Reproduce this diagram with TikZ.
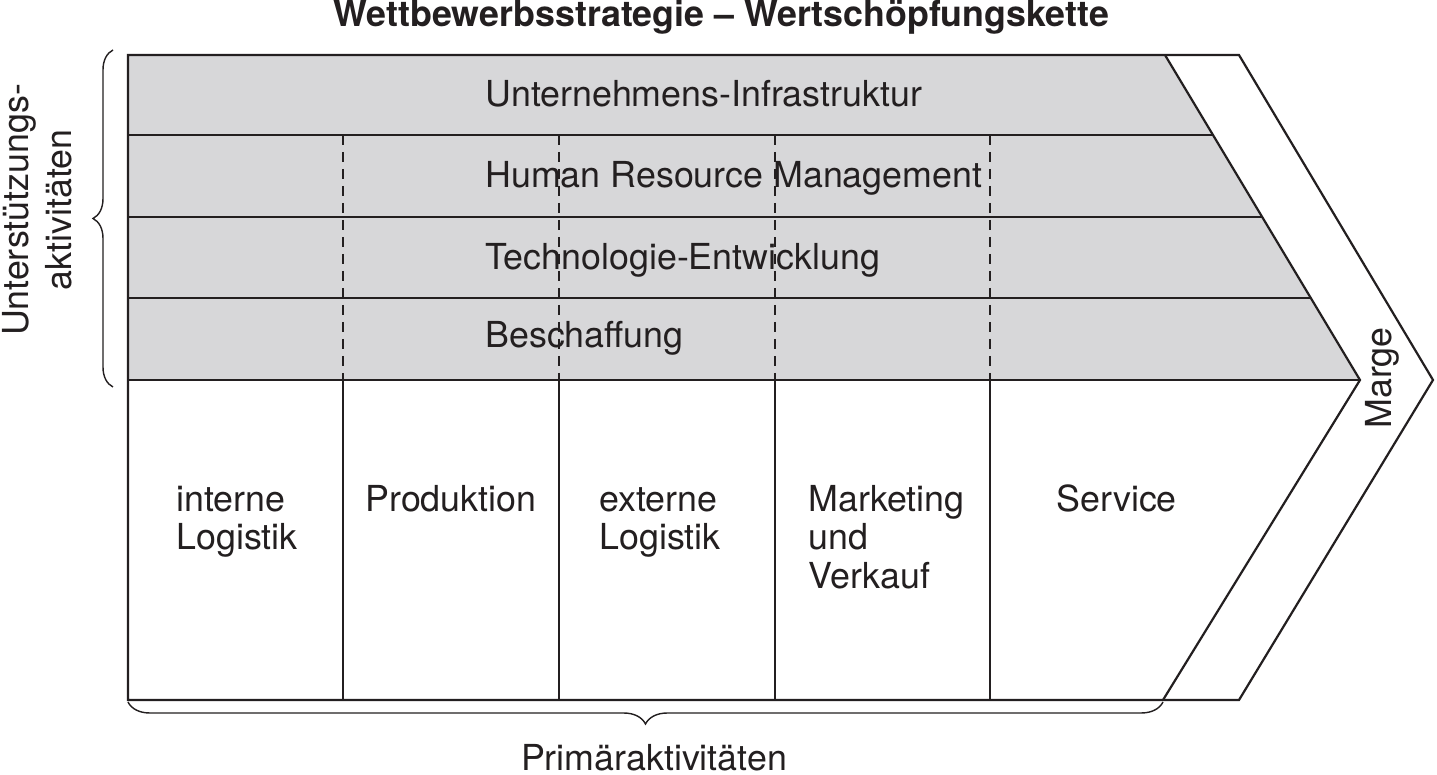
\documentclass[tikz,border=0pt]{standalone}
\usepackage{fontspec}
\setmainfont{TeX Gyre Heros}
\usetikzlibrary{decorations.pathreplacing}
\definecolor{ink}{RGB}{35,31,32}
\definecolor{band}{RGB}{215,215,217}
\newcommand\lineslft[2]{\vtop{\hbox{#1}\hbox{#2}}}
\newcommand\linesthree[3]{\vtop{\hbox{#1}\hbox{#2}\hbox{#3}}}
\newcommand\linesctr[2]{\vtop{\baselineskip=21.5pt\halign{\hfil##\hfil\cr#1\cr#2\cr}}}
\begin{document}
\begin{tikzpicture}[x=0.5pt,y=-0.5pt,
  lbl/.style={font=\fontsize{17.9}{19.5}\selectfont, inner sep=0pt, text=ink},
  ttl/.style={lbl, font=\fontsize{17.9}{19.5}\selectfont\bfseries},
  outline/.style={draw=ink, line width=1.1pt, line join=miter},
  divider/.style={draw=ink, line width=0.8pt},
  dashdiv/.style={draw=ink, line width=0.75pt, dash pattern=on 5pt off 3.5pt},
  bracestyle/.style={draw=ink, line width=0.7pt, decorate}]
\fill[white] (0,0) rectangle (1437,775);
\useasboundingbox (0,0) rectangle (1437,775);
% key points
\coordinate (tl) at (128,55);
\coordinate (gtr) at (1165,55);
\coordinate (gtip) at (1360,380);
\coordinate (gbr) at (1163,700);
\coordinate (otr) at (1239,55);
\coordinate (otip) at (1433,380);
\coordinate (obr) at (1239,700);
\coordinate (bl) at (128,700);
\coordinate (ml) at (128,380);
% support band
\fill[band] (tl) -- (gtr) -- (gtip) -- (ml) -- cycle;
% row separators
\coordinate (r1l) at (128,135); \coordinate (r1r) at (1213,135);
\coordinate (r2l) at (128,217); \coordinate (r2r) at (1262.2,217);
\coordinate (r3l) at (128,298); \coordinate (r3r) at (1310.8,298);
\draw[outline] (r1l) -- (r1r);
\draw[outline] (r2l) -- (r2r);
\draw[outline] (r3l) -- (r3r);
\draw[outline] (ml) -- (gtip);
% dashed dividers in support rows, solid dividers in primary row
\foreach \x [count=\i] in {343,559,775,990}{
  \coordinate (dt\i) at (\x,135);
  \coordinate (db\i) at (\x,380);
  \coordinate (pb\i) at (\x,700);
  \draw[dashdiv] (dt\i) -- (db\i);
  \draw[divider] (db\i) -- (pb\i);
}
% inner chevron and outer outline
\draw[outline] (gtr) -- (gtip) -- (gbr);
\draw[outline] (tl) -- (otr) -- (otip) -- (obr) -- (bl) -- cycle;
% braces
\coordinate (lbt) at (113,50); \coordinate (lbb) at (113,387);
\draw[bracestyle, decoration={brace, amplitude=10pt}] (lbb) -- (lbt);
\coordinate (bbl) at (128,702); \coordinate (bbr) at (1163,702);
\draw[bracestyle, decoration={brace, amplitude=11pt}] (bbr) -- (bbl);
% texts
\node[ttl, anchor=base] (title) at (721.5,27) {Wettbewerbsstrategie – Wertschöpfungskette};
\node[lbl, anchor=base west] (infra) at (485,107) {Unternehmens-Infrastruktur};
\node[lbl, anchor=base west] (hrm) at (485,188) {Human Resource Management};
\node[lbl, anchor=base west] (tech) at (485,270) {Technologie-Entwicklung};
\node[lbl, anchor=base west] (besch) at (485,348) {Beschaffung};
\node[lbl, anchor=base west] (intlog) at (176,511) {\lineslft{interne}{Logistik}};
\node[lbl, anchor=base west] (prod) at (365,511) {Produktion};
\node[lbl, anchor=base west] (extlog) at (599,511) {\lineslft{externe}{Logistik}};
\node[lbl, anchor=base west] (mkt) at (808,511) {\linesthree{Marketing}{und}{Verkauf}};
\node[lbl, anchor=base west] (serv) at (1056,511) {Service};
\node[lbl, rotate=90, anchor=base] (marge) at (1391,378) {Marge};
\node[lbl, rotate=90, anchor=base] (unterst) at (28,210) {\linesctr{Unterstützungs-}{aktivitäten}};
\node[lbl, anchor=base] (prim) at (654,770) {Primäraktivitäten};
\end{tikzpicture}
\end{document}
